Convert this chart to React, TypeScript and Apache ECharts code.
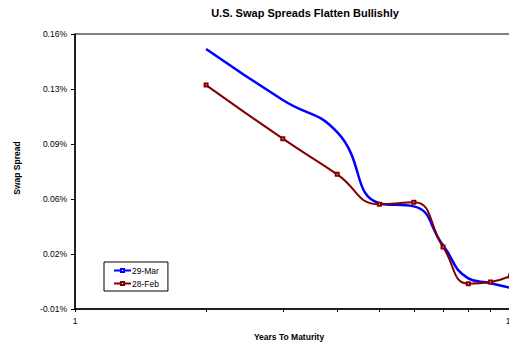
import React, { useEffect, useRef } from "react";
import * as echarts from "echarts";

const years = [2, 3, 4, 5, 6, 7, 8, 9, 10];
const mar29 = [0.1555, 0.123, 0.1025, 0.0573, 0.0553, 0.0305, 0.0095, 0.0064, 0.0034];
const feb28 = [0.1325, 0.0984, 0.0757, 0.0566, 0.0579, 0.0295, 0.0061, 0.0072, 0.011];
const xTickValues = [1, 2, 3, 4, 5, 6, 7, 8, 9, 10];
const xLabelValues = [1, 10];
const yTickValues = [-0.01, 0.025, 0.06, 0.095, 0.13, 0.165];
const yTickLabels = ["-0.01%", "0.02%", "0.06%", "0.09%", "0.13%", "0.16%"];

const FONT = "'Liberation Sans', Arial, sans-serif";

export default function App() {
  const ref = useRef<HTMLDivElement>(null);
  useEffect(() => {
    if (!ref.current) return;
    const chart = echarts.init(ref.current, undefined, { renderer: "svg" });
    const yMin = yTickValues[0];
    const yMax = yTickValues[yTickValues.length - 1];
    const yStep = yTickValues[1] - yTickValues[0];
    chart.setOption({
      animation: false,
      backgroundColor: "#fff",
      textStyle: { fontFamily: FONT },
      grid: {
        left: 75,
        top: 34,
        width: 435.5,
        height: 275,
        show: true,
        borderColor: "#000",
        borderWidth: 1,
        backgroundColor: "transparent",
      },
      legend: {
        orient: "vertical",
        left: 104,
        top: 262,
        borderColor: "#000",
        borderWidth: 1,
        padding: [4, 9, 3, 9],
        itemGap: 4,
        itemWidth: 17,
        itemHeight: 4,
        textStyle: { fontSize: 8.5, color: "#000", fontFamily: FONT, padding: [0, 0, 0, -4] },
        data: ["29-Mar", "28-Feb"],
      },
      xAxis: [
        {
          type: "log",
          logBase: 10,
          min: 1,
          max: 10,
          position: "bottom",
          axisLine: { show: true, onZero: false, lineStyle: { color: "#000", width: 1.5 } },
          axisTick: { show: false },
          axisLabel: {
            customValues: xLabelValues,
            fontSize: 8.5,
            color: "#000",
            margin: 7,
            fontFamily: FONT,
          },
          splitLine: { show: false },
          minorTick: { show: false },
        },
        {
          type: "value",
          min: 0,
          max: 1,
          position: "bottom",
          axisLine: { show: false, onZero: false },
          axisTick: {
            show: true,
            customValues: xTickValues.map((v) => Math.log10(v)),
            length: 3,
            lineStyle: { color: "#000" },
          },
          axisLabel: { show: false },
          splitLine: { show: false },
        },
      ],
      yAxis: {
        type: "value",
        min: yMin,
        max: yMax,
        axisLine: { show: true, lineStyle: { color: "#000", width: 1.5 } },
        axisTick: { show: true, customValues: yTickValues, length: 4, lineStyle: { color: "#000" } },
        axisLabel: {
          customValues: yTickValues,
          fontSize: 8.5,
          color: "#000",
          margin: 8,
          fontFamily: FONT,
          formatter: (v: number) => yTickLabels[Math.round((v - yMin) / yStep)] ?? "",
        },
        splitLine: { show: false },
      },
      graphic: [
        {
          type: "text",
          x: 305,
          y: 13,
          style: {
            text: "U.S. Swap Spreads Flatten Bullishly",
            font: `bold 11px ${FONT}`,
            fill: "#000",
            align: "center",
            verticalAlign: "middle",
          },
        },
        {
          type: "text",
          x: 17,
          y: 168,
          rotation: Math.PI / 2,
          style: {
            text: "Swap Spread",
            font: `bold 8.5px ${FONT}`,
            fill: "#000",
            align: "center",
            verticalAlign: "middle",
          },
        },
        {
          type: "text",
          x: 289,
          y: 337,
          style: {
            text: "Years To Maturity",
            font: `bold 8.5px ${FONT}`,
            fill: "#000",
            align: "center",
            verticalAlign: "middle",
          },
        },
      ],
      series: [
        {
          name: "29-Mar",
          type: "line",
          xAxisIndex: 0,
          data: years.map((y, i) => [y, mar29[i]]),
          smooth: 0.5,
          symbol: "emptyRect",
          symbolSize: 3,
          showSymbol: false,
          lineStyle: { color: "#0000FF", width: 2.5 },
          itemStyle: { color: "#0000FF" },
          z: 2,
        },
        {
          name: "28-Feb",
          type: "line",
          xAxisIndex: 0,
          data: years.map((y, i) => [y, feb28[i]]),
          smooth: 0.5,
          symbol: "emptyRect",
          symbolSize: 3,
          lineStyle: { color: "#800000", width: 2 },
          itemStyle: { color: "#800000", borderWidth: 1 },
          z: 3,
        },
      ],
    });
    return () => chart.dispose();
  }, []);
  return (
    <div
      style={{ position: "fixed", left: 0, top: 0, width: 509, height: 344, overflow: "hidden", background: "#fff" }}
    >
      <div ref={ref} style={{ width: 545, height: 344 }} />
    </div>
  );
}
